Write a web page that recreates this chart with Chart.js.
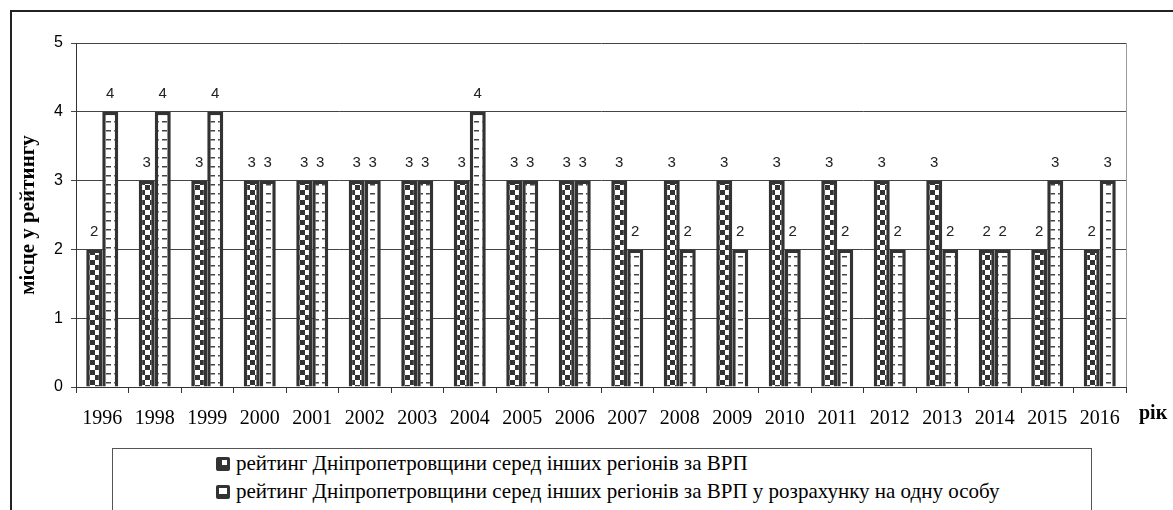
<!DOCTYPE html>
<html>
<head>
<meta charset="utf-8">
<script src="https://cdn.jsdelivr.net/npm/chart.js@4"></script>
<style>
    body { margin: 0; background: #fff; }
    #wrap { position: relative; width: 1173px; height: 510px; overflow: hidden; }
    #frame { position: absolute; left: 10px; top: 10px; width: 1180px; height: 520px; border: 2px solid #222; box-sizing: border-box; }
    #rik { position: absolute; left: 1139px; top: 400px; font: bold 20px 'Liberation Serif', 'Times New Roman', serif; color: #000; line-height: 24px; }
    #legend { position: absolute; left: 112px; top: 448px; width: 980px; height: 80px; border: 1px solid #555; box-sizing: border-box; background: #fff; }
    .item { position: absolute; left: 103px; font: 21px 'Liberation Serif', 'Times New Roman', serif; line-height: 24px; color: #000; white-space: nowrap; }
    .sw { display: inline-block; width: 14px; height: 14px; background: #333; border-radius: 2px; margin-right: 6px; position: relative; top: 1px; }
    .sw1::after { content: ''; position: absolute; right: 3px; top: 3px; width: 5px; height: 5px; background: #fff; }
    .sw2::after { content: ''; position: absolute; left: 3px; top: 3px; width: 8px; height: 6px; background: #fff; }
    canvas { position: absolute; left: 0; top: 0; }
</style>
</head>
<body>
<div id="wrap">
    <div id="frame"></div>
    <canvas id="myChart" width="1173" height="510"></canvas>
    <div id="rik">рік</div>
    <div id="legend">
        <div class="item" style="top: 2px;"><span class="sw sw1"></span>рейтинг Дніпропетровщини серед інших регіонів за ВРП</div>
        <div class="item" style="top: 30px;"><span class="sw sw2"></span>рейтинг Дніпропетровщини серед інших регіонів за ВРП у розрахунку на одну особу</div>
    </div>
</div>
<script>
    const years = ['1996', '1998', '1999', '2000', '2001', '2002', '2003', '2004', '2005', '2006',
        '2007', '2008', '2009', '2010', '2011', '2012', '2013', '2014', '2015', '2016'];
    const rankGrp = [2, 3, 3, 3, 3, 3, 3, 3, 3, 3, 3, 3, 3, 3, 3, 3, 3, 2, 2, 2];
    const rankPerCapita = [4, 4, 4, 3, 3, 3, 3, 4, 3, 3, 2, 2, 2, 2, 2, 2, 2, 2, 3, 3];
    const yTicks = [0, 1, 2, 3, 4, 5];

    const ctx = document.getElementById('myChart');

    // checker fill for the first series
    const makeChecker = () => {
        const c = document.createElement('canvas');
        c.width = 10; c.height = 10;
        const g = c.getContext('2d');
        g.fillStyle = '#fff';
        g.fillRect(0, 0, 10, 10);
        g.fillStyle = '#333';
        g.fillRect(0, 0, 5, 5);
        g.fillRect(5, 5, 5, 5);
        return g.createPattern(c, 'repeat');
    }

    // white fill with short dashes for the second series
    const makeDashes = () => {
        const c = document.createElement('canvas');
        c.width = 8; c.height = 9;
        const g = c.getContext('2d');
        g.fillStyle = '#fff';
        g.fillRect(0, 0, 8, 9);
        g.fillStyle = '#444';
        g.fillRect(2, 4, 5, 1.5);
        return g.createPattern(c, 'repeat');
    }

    const barLabels = {
        id: 'barLabels',
        afterDatasetsDraw(chart) {
            const {ctx, data} = chart;
            ctx.save();
            ctx.font = '15px "Liberation Sans", Arial, sans-serif';
            ctx.fillStyle = '#222';
            ctx.textAlign = 'center';
            ctx.textBaseline = 'bottom';
            data.datasets.forEach((ds, i) => {
                chart.getDatasetMeta(i).data.forEach((bar, j) => {
                    ctx.fillText(ds.data[j], bar.x, bar.y - 10);
                });
            });
            // right edge of the plot area
            const a = chart.chartArea;
            ctx.strokeStyle = '#999';
            ctx.lineWidth = 1;
            ctx.beginPath();
            ctx.moveTo(a.right + 0.5, a.top);
            ctx.lineTo(a.right + 0.5, a.bottom);
            ctx.stroke();
            ctx.restore();
        }
    }

    new Chart(ctx, {
        type: 'bar',
        data: {
            labels: years,
            datasets: [{
                label: 'рейтинг Дніпропетровщини серед інших регіонів за ВРП',
                data: rankGrp,
                backgroundColor: makeChecker(),
                borderColor: '#333',
                borderWidth: 3.5
            }, {
                label: 'рейтинг Дніпропетровщини серед інших регіонів за ВРП у розрахунку на одну особу',
                data: rankPerCapita,
                backgroundColor: makeDashes(),
                borderColor: '#333',
                borderWidth: 3.5
            }]
        },
        plugins: [barLabels],
        options: {
            responsive: false,
            animation: false,
            events: [],
            categoryPercentage: 0.61,
            barPercentage: 1.0,
            layout: { padding: { left: 0, right: 47, top: 43, bottom: 0 } },
            plugins: {
                legend: { display: false },
                tooltip: { enabled: false }
            },
            scales: {
                x: {
                    offset: true,
                    grid: { offset: true, drawOnChartArea: false, tickLength: 6, color: '#333' },
                    border: { color: '#333' },
                    ticks: {
                        font: { family: 'Liberation Serif', size: 20 },
                        color: '#000',
                        padding: 14,
                        maxRotation: 0,
                        autoSkip: false
                    },
                    afterFit(scale) { scale.height = 123; }
                },
                y: {
                    min: 0,
                    max: 5,
                    afterBuildTicks(scale) { scale.ticks = yTicks.map(v => ({value: v})); },
                    grid: { color: '#444', tickLength: 5 },
                    border: { color: '#333' },
                    ticks: {
                        font: { family: 'Liberation Sans', size: 16 },
                        color: '#000',
                        padding: 8
                    },
                    title: {
                        display: true,
                        text: 'місце у рейтингу',
                        font: { family: 'Liberation Serif', size: 21, weight: 'bold' },
                        color: '#000',
                        padding: { top: 16, bottom: 0 }
                    },
                    afterFit(scale) { scale.width = 76; }
                }
            }
        }
    });
</script>
</body>
</html>
